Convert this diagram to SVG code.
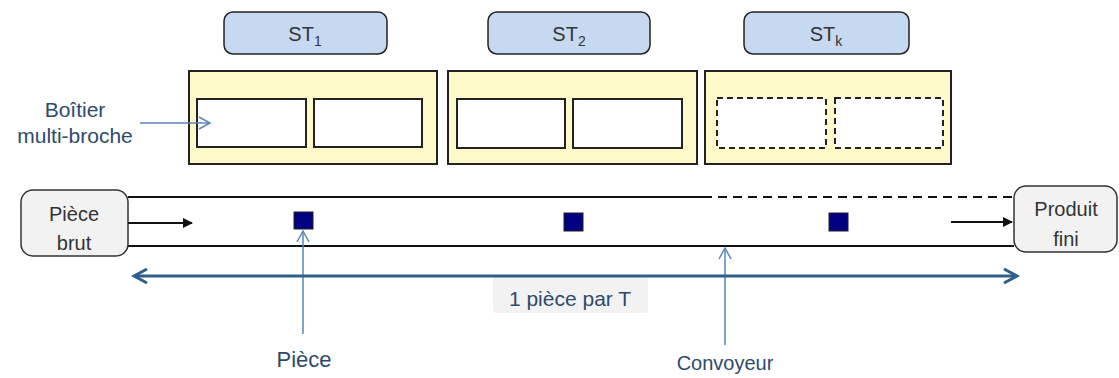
<svg xmlns="http://www.w3.org/2000/svg" width="1119" height="378" viewBox="0 0 1119 378">
<style>
.st{fill:#c6d9f1;stroke:#222;stroke-width:1.5}
.box{fill:#fdf9c8;stroke:#222;stroke-width:2}
.slot{fill:#fff;stroke:#222;stroke-width:2}
.dslot{fill:#fff;stroke:#222;stroke-width:2;stroke-dasharray:6,4}
.term{fill:#f2f2f2;stroke:#333;stroke-width:1.5}
.part{fill:#000080;stroke:#222;stroke-width:1}
.t{font-family:"Liberation Sans",Arial,sans-serif;fill:#333;text-anchor:middle}
.lbl{font-family:"Liberation Sans",Arial,sans-serif;fill:#2e4a6b;text-anchor:middle}
.line{stroke:#111;stroke-width:2;fill:none}
.ptr{stroke:#5a86b8;stroke-width:1.5;fill:none}
.dim{stroke:#2f5e8e;stroke-width:3;fill:none}
</style>
<defs>
<marker id="blk" markerWidth="10" markerHeight="10" refX="9" refY="5" orient="auto" markerUnits="userSpaceOnUse"><path d="M0,0 L10,5 L0,10 z" fill="#111"/></marker>
<marker id="open" markerWidth="14" markerHeight="14" refX="12" refY="7" orient="auto" markerUnits="userSpaceOnUse"><path d="M1,1 L12,7 L1,13" fill="none" stroke="#5a86b8" stroke-width="1.5"/></marker>
<marker id="dimh" markerWidth="18" markerHeight="18" refX="15" refY="9" orient="auto-start-reverse" markerUnits="userSpaceOnUse"><path d="M2,2 L15,9 L2,16" fill="none" stroke="#2f5e8e" stroke-width="3"/></marker>
</defs>

<g id="st1"><rect class="st" x="224" y="12" width="163" height="42" rx="9"/><text class="t" x="305" y="41" font-size="20">ST<tspan font-size="14" dy="5">1</tspan></text></g>
<g id="st2"><rect class="st" x="488" y="12" width="162" height="42" rx="9"/><text class="t" x="569" y="41" font-size="20">ST<tspan font-size="14" dy="5">2</tspan></text></g>
<g id="stk"><rect class="st" x="744" y="12" width="165" height="42" rx="9"/><text class="t" x="826" y="41" font-size="20">ST<tspan font-size="14" dy="5">k</tspan></text></g>

<g id="boitier1"><rect class="box" x="189" y="71" width="248" height="93"/><rect class="slot" x="197" y="99" width="109" height="48"/><rect class="slot" x="314" y="99" width="108" height="48"/></g>
<g id="boitier2"><rect class="box" x="448" y="71" width="249" height="93"/><rect class="slot" x="457" y="99" width="108" height="49"/><rect class="slot" x="573" y="99" width="109" height="49"/></g>
<g id="boitierk"><rect class="box" x="705" y="71" width="246" height="93"/><rect class="dslot" x="717" y="98" width="109" height="50"/><rect class="dslot" x="835" y="98" width="108" height="50"/></g>

<g id="label-boitier"><text class="lbl" x="75" y="117" font-size="21">Boîtier</text><text class="lbl" x="75" y="143" font-size="21">multi-broche</text></g>

<g id="convoyeur">
<line class="line" x1="128" y1="197" x2="703" y2="197"/>
<line class="line" x1="703" y1="197" x2="1014" y2="197" stroke-dasharray="9,6"/>
<line class="line" x1="128" y1="246" x2="1014" y2="246"/>
</g>

<g id="piece-brut"><rect class="term" x="21" y="190" width="107" height="66" rx="12"/><text class="t" x="74" y="221" font-size="20">Pièce</text><text class="t" x="74" y="250" font-size="20">brut</text></g>
<g id="produit-fini"><rect class="term" x="1014" y="186" width="103" height="66" rx="12"/><text class="t" x="1066" y="216" font-size="20">Produit</text><text class="t" x="1066" y="246" font-size="20">fini</text></g>

<g id="pieces">
<rect class="part" x="294" y="212" width="19" height="17"/>
<rect class="part" x="564" y="213" width="19" height="18"/>
<rect class="part" x="829" y="213" width="19" height="18"/>
</g>

<g id="label-1piece"><rect x="493" y="277" width="155" height="36" rx="3" fill="#f2f2f2"/><text class="lbl" x="570" y="306" font-size="21" fill="#333">1 pièce par T</text></g>
<g id="label-piece"><text class="lbl" x="304" y="367" font-size="22">Pièce</text></g>
<g id="label-convoyeur"><text class="lbl" x="725" y="370" font-size="20">Convoyeur</text></g>

<g id="connectors">
<line class="ptr" x1="140" y1="123" x2="210" y2="123" marker-end="url(#open)"/>
<line class="line" x1="128" y1="223" x2="192" y2="223" stroke-width="1.5" marker-end="url(#blk)"/>
<line class="line" x1="951" y1="222" x2="1012" y2="222" stroke-width="1.5" marker-end="url(#blk)"/>
<line class="ptr" x1="303" y1="334" x2="303" y2="231" marker-end="url(#open)"/>
<line class="ptr" x1="725" y1="345" x2="725" y2="248" marker-end="url(#open)"/>
<line class="dim" x1="134" y1="276" x2="1017" y2="276" marker-start="url(#dimh)" marker-end="url(#dimh)"/>
</g>
</svg>
